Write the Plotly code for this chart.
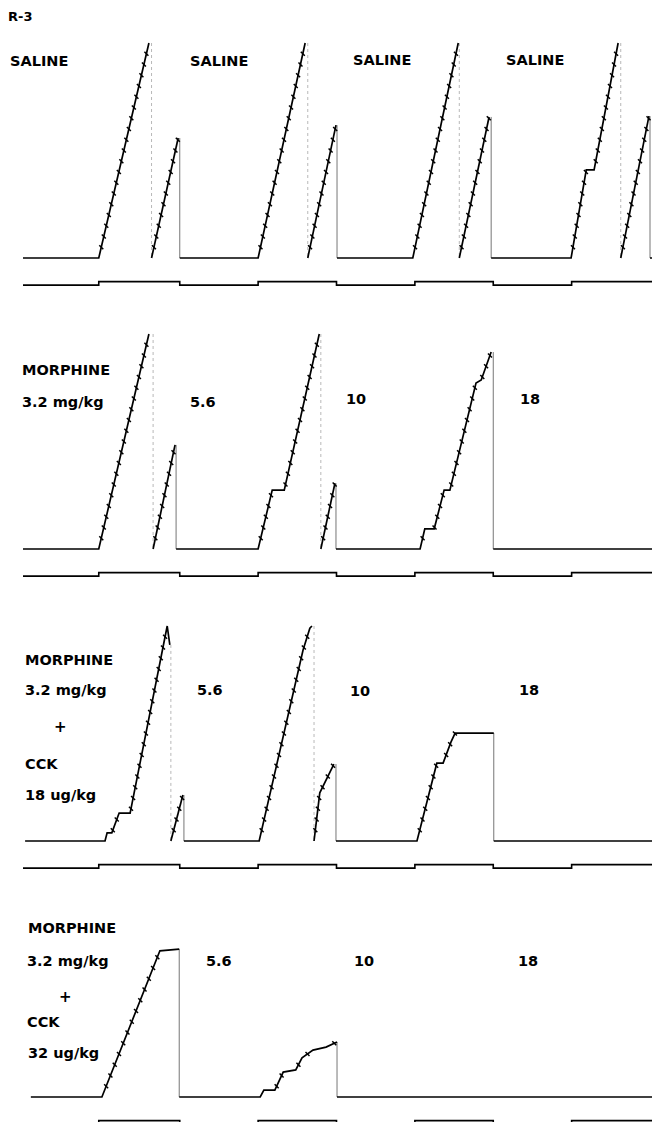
import plotly.graph_objects as go

W, H = 652, 1122

# ---- data: session time (min) and cumulative responses; None = pen stroke break (reset)
p1_t = [0, 14.5, 24.1, None, 24.6, 29.7, None, 30.0, 45.0, 54.0, None, 54.5, 59.9, None,
        60.1, 74.6, 83.3, None, 83.5, 89.2, None, 89.6, 104.9, 107.8, 109.3, 113.9, None,
        114.4, 119.8, None, 120.0, 120.4]
p1_r = [0, 0, 500, None, 0, 279, None, 0, 0, 500, None, 0, 309, None,
        0, 0, 500, None, 0, 328, None, 0, 0, 205, 205, 500, None,
        0, 330, None, 0, 0]

p2_t = [0, 14.5, 24.1, None, 24.9, 29.1, None, 29.3, 45.0, 47.7, 50.0, 56.7, None,
        57.0, 59.7, None, 59.9, 76.0, 76.9, 78.7, 80.6, 81.7, 86.7, 87.7, 89.6, None,
        90.0, 120.4]
p2_r = [0, 0, 500, None, 0, 242, None, 0, 0, 137, 137, 500, None,
        0, 153, None, 0, 0, 47, 47, 137, 137, 386, 393, 458, None,
        0, 0]

p3_t = [0.4, 15.7, 16.1, 17.0, 18.4, 20.5, 27.6, 28.1, None, 28.3, 30.6, None,
        30.8, 45.2, 53.6, 54.9, 55.3, None, 55.7, 56.8, 59.5, None,
        59.9, 75.4, 79.2, 80.4, 81.9, 82.7, 90.1, None, 90.1, 120.4]
p3_r = [0, 0, 19, 19, 65, 65, 500, 456, None, 0, 107, None,
        0, 0, 444, 495, 500, None, 0, 112, 179, None,
        0, 0, 181, 181, 230, 251, 251, None, 0, 0]

p4_t = [1.5, 15.1, 26.2, 29.9, None, 29.9, 45.4, 46.1, 48.2, 49.8, 52.2, 53.4, 55.5,
        58.0, 60.1, None, 60.1, 120.4]
p4_r = [0, 0, 340, 344, None, 0, 0, 16, 16, 58, 63, 91, 109, 116, 128, None, 0, 0]

# event pen: transition times (min) and state (0 = time-out, 1 = response period)
event_t = [0, 14.5, 30.0, 45.0, 60.0, 75.0, 90.0, 105.0, 120.4]
event_s = [0, 1, 0, 1, 0, 1, 0, 1, 1]

FR = 25  # responses per reinforcement pip

# ---- labels
title_label = "R-3"
panel_labels = [
    [("SALINE", 8, 61), ("SALINE", 188, 61), ("SALINE", 351, 60), ("SALINE", 504, 60)],
    [("MORPHINE", 20, 370), ("3.2 mg/kg", 20, 402), ("5.6", 188, 402), ("10", 344, 399),
     ("18", 518, 399)],
    [("MORPHINE", 23, 660), ("3.2 mg/kg", 23, 690), ("CCK", 23, 764), ("18 ug/kg", 23, 795),
     ("5.6", 195, 690), ("10", 348, 691), ("18", 517, 690)],
    [("MORPHINE", 26, 928), ("3.2 mg/kg", 25, 961), ("CCK", 25, 1022), ("32 ug/kg", 26, 1053),
     ("5.6", 204, 961), ("10", 352, 961), ("18", 516, 961)],
]
plus_marks = [(60, 727), (65, 997)]

# ---- layout geometry (pixels)
X0_PX = 23.0           # x pixel of t = 0
PX_PER_MIN = 5.225
PX_PER_RESP = 0.43
baselines = [258, 549, 841, 1097]
tops = [28, 319, 611, 900]
bottoms = [292, 583, 875, 1122]
EVENT_LOW, EVENT_HIGH = -63, -55

records = [(p1_t, p1_r), (p2_t, p2_r), (p3_t, p3_r), (p4_t, p4_r)]

fig = go.Figure()
x_range = [-X0_PX / PX_PER_MIN, (W - X0_PX) / PX_PER_MIN]


def split_strokes(t, r):
    strokes, cur = [], ([], [])
    for a, b in zip(t, r):
        if a is None:
            strokes.append(cur)
            cur = ([], [])
        else:
            cur[0].append(a)
            cur[1].append(b)
    strokes.append(cur)
    return strokes


for i, (t, r) in enumerate(records):
    k = i + 1
    xa = "x" if k == 1 else f"x{k}"
    ya = "y" if k == 1 else f"y{k}"
    strokes = split_strokes(t, r)

    # reset lines
    faint_x, faint_y, thin_x, thin_y = [], [], [], []
    for s_prev, s_next in zip(strokes[:-1], strokes[1:]):
        tx = s_next[0][0]
        top = s_prev[1][-1]
        if max(s_prev[1]) >= 490:
            faint_x += [tx, tx, None]
            faint_y += [top, 0, None]
        else:
            thin_x += [tx, tx, None]
            thin_y += [top, 0, None]
    fig.add_trace(go.Scatter(x=faint_x, y=faint_y, mode="lines", xaxis=xa, yaxis=ya,
                             line=dict(color="#b8b8b8", width=1, dash="dot"),
                             hoverinfo="skip"))
    fig.add_trace(go.Scatter(x=thin_x, y=thin_y, mode="lines", xaxis=xa, yaxis=ya,
                             line=dict(color="#666666", width=0.9),
                             hoverinfo="skip"))

    # main cumulative record
    fig.add_trace(go.Scatter(x=t, y=r, mode="lines", xaxis=xa, yaxis=ya,
                             connectgaps=False,
                             line=dict(color="black", width=1.7),
                             hoverinfo="skip"))

    # reinforcement pips every FR responses on rising pen segments
    px_, py_ = [], []
    for st, sr in strokes:
        for j in range(len(st) - 1):
            t0, t1, r0, r1 = st[j], st[j + 1], sr[j], sr[j + 1]
            if r1 - r0 > 10 and t1 > t0:
                n = int(r0 // FR) + 1
                while n * FR < r1:
                    rv = n * FR
                    px_.append(t0 + (rv - r0) / (r1 - r0) * (t1 - t0))
                    py_.append(rv)
                    n += 1
    fig.add_trace(go.Scatter(x=px_, y=py_, mode="markers", xaxis=xa, yaxis=ya,
                             marker=dict(symbol="line-nw", size=4,
                                         line=dict(color="black", width=1.5)),
                             hoverinfo="skip"))

    # event pen
    ey = [EVENT_HIGH if s else EVENT_LOW for s in event_s]
    fig.add_trace(go.Scatter(x=event_t, y=ey, mode="lines", xaxis=xa, yaxis=ya,
                             line=dict(color="black", width=1.6, shape="hv"),
                             hoverinfo="skip"))

    base = baselines[i]
    y_lo = -(bottoms[i] - base) / PX_PER_RESP
    y_hi = (base - tops[i]) / PX_PER_RESP
    dom = [1 - bottoms[i] / H, 1 - tops[i] / H]
    axis_common = dict(visible=False, showgrid=False, zeroline=False, fixedrange=True)
    fig.update_layout(**{
        ("xaxis" if k == 1 else f"xaxis{k}"): dict(domain=[0, 1], range=x_range,
                                                    anchor=ya, **axis_common),
        ("yaxis" if k == 1 else f"yaxis{k}"): dict(domain=dom, range=[y_lo, y_hi],
                                                    anchor=xa, **axis_common),
    })

FONT = dict(family="DejaVu Sans", size=14.5, color="black", weight="bold")


def ann(text, xpx, ypx, size=None, anchor="left"):
    f = dict(FONT)
    if size:
        f["size"] = size
    fig.add_annotation(text=text, x=xpx / W, y=1 - ypx / H, xref="paper", yref="paper",
                       xanchor=anchor, yanchor="middle", showarrow=False, font=f)


ann(title_label, 6, 16, size=13)
for group in panel_labels:
    for text, xpx, ypx in group:
        ann(text, xpx, ypx)
for xpx, ypx in plus_marks:
    ann("+", xpx, ypx, size=15, anchor="center")

fig.update_layout(width=W, height=H, margin=dict(l=0, r=0, t=0, b=0),
                  paper_bgcolor="white", plot_bgcolor="white", showlegend=False)

fig.write_html("out.html",
               config={"displayModeBar": False, "staticPlot": True},
               post_script="document.body.style.margin='0px';"
                           "document.documentElement.style.margin='0px';")
